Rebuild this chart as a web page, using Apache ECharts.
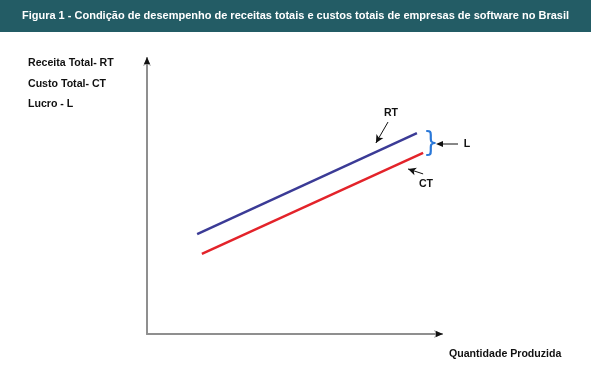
<!DOCTYPE html>
<html><head><meta charset="utf-8">
<script src="https://cdn.jsdelivr.net/npm/echarts@6/dist/echarts.min.js"></script>
<style>html,body{margin:0;padding:0;background:#fff}#c{width:591px;height:391px}</style>
</head><body><div id="c"></div>
<script>
const titleText = 'Figura 1 - Condição de desempenho de receitas totais e custos totais de empresas de software no Brasil';
const legendLines = ['Receita Total- RT', 'Custo Total- CT', 'Lucro - L'];
const xAxisName = 'Quantidade Produzida';
const rtX = [17, 91.5];
const rtY = [36.2, 72.8];
const ctX = [18.6, 93.6];
const ctY = [29.0, 65.6];
const rtArrow = [[81.7, 76.8], [77.6, 69.2]];
const ctArrow = [[93.6, 58.0], [88.5, 59.8]];

const chart = echarts.init(document.getElementById('c'));
const pairs = (xs, ys) => xs.map((x, i) => [x, ys[i]]);
const arrowStyle = {color: '#111', width: 1, type: 'solid'};
function arrowLine(a) {
  return [{coord: a[0], symbol: 'none'}, {coord: a[1], symbol: 'arrow'}];
}
const FONT = 'bold 10.6px "Liberation Sans", Arial, sans-serif';
chart.setOption({
  animation: false,
  backgroundColor: '#fff',
  grid: {left: 147, top: 58, right: 149, bottom: 57},
  xAxis: {
    type: 'value', min: 0, max: 100,
    axisLine: {show: true, symbol: ['none', 'arrow'], symbolSize: [6, 8], lineStyle: {color: '#8f8f8f', width: 2}},
    axisTick: {show: false}, axisLabel: {show: false}, splitLine: {show: false}
  },
  yAxis: {
    type: 'value', min: 0, max: 100,
    axisLine: {show: true, symbol: ['none', 'arrow'], symbolSize: [6, 8], lineStyle: {color: '#8f8f8f', width: 2}},
    axisTick: {show: false}, axisLabel: {show: false}, splitLine: {show: false}
  },
  series: [
    {
      type: 'line', data: pairs(rtX, rtY), symbol: 'none', clip: false,
      lineStyle: {color: '#3b3b96', width: 2.5},
      markLine: {silent: true, symbolSize: [6, 8], lineStyle: arrowStyle, label: {show: false},
        data: [arrowLine(rtArrow)]}
    },
    {
      type: 'line', data: pairs(ctX, ctY), symbol: 'none', clip: false,
      lineStyle: {color: '#e3232a', width: 2.5},
      markLine: {silent: true, symbolSize: [6, 8], lineStyle: arrowStyle, label: {show: false},
        data: [arrowLine(ctArrow)]}
    }
  ],
  graphic: [
    {type: 'rect', shape: {x: 0, y: 0, width: 591, height: 32}, style: {fill: '#235c65'}},
    {type: 'text', x: 295.5, y: 16, style: {text: titleText, fill: '#fff', font: 'bold 11px "Liberation Sans", Arial, sans-serif', align: 'center', verticalAlign: 'middle'}},
    {type: 'text', x: 28, y: 63, style: {text: legendLines[0], fill: '#111', font: FONT, verticalAlign: 'middle'}},
    {type: 'text', x: 28, y: 84, style: {text: legendLines[1], fill: '#111', font: FONT, verticalAlign: 'middle'}},
    {type: 'text', x: 28, y: 104, style: {text: legendLines[2], fill: '#111', font: FONT, verticalAlign: 'middle'}},
    {type: 'text', x: 449, y: 354, style: {text: xAxisName, fill: '#111', font: FONT, verticalAlign: 'middle'}},
    {type: 'text', x: 391, y: 113, style: {text: 'RT', fill: '#111', font: FONT, align: 'center', verticalAlign: 'middle'}},
    {type: 'text', x: 426, y: 184, style: {text: 'CT', fill: '#111', font: FONT, align: 'center', verticalAlign: 'middle'}},
    {type: 'text', x: 467, y: 144, style: {text: 'L', fill: '#111', font: FONT, align: 'center', verticalAlign: 'middle'}},
    {type: 'line', shape: {x1: 458, y1: 144, x2: 442, y2: 144}, style: {stroke: '#111', lineWidth: 1}},
    {type: 'polygon', shape: {points: [[436, 144], [443, 141], [443, 147]]}, style: {fill: '#111'}},
    {type: 'polygon', shape: {points: [[147, 57], [144, 64], [150, 64]]}, style: {fill: '#111'}, z: 100},
    {type: 'polygon', shape: {points: [[443, 334], [436, 331], [436, 337]]}, style: {fill: '#111'}, z: 100},
    {type: 'text', x: 431, y: 145, scaleY: 1.15, style: {text: '}', fill: '#2a78d8', font: '24px "DejaVu Sans", sans-serif', align: 'center', verticalAlign: 'middle'}}
  ]
});
</script></body></html>
